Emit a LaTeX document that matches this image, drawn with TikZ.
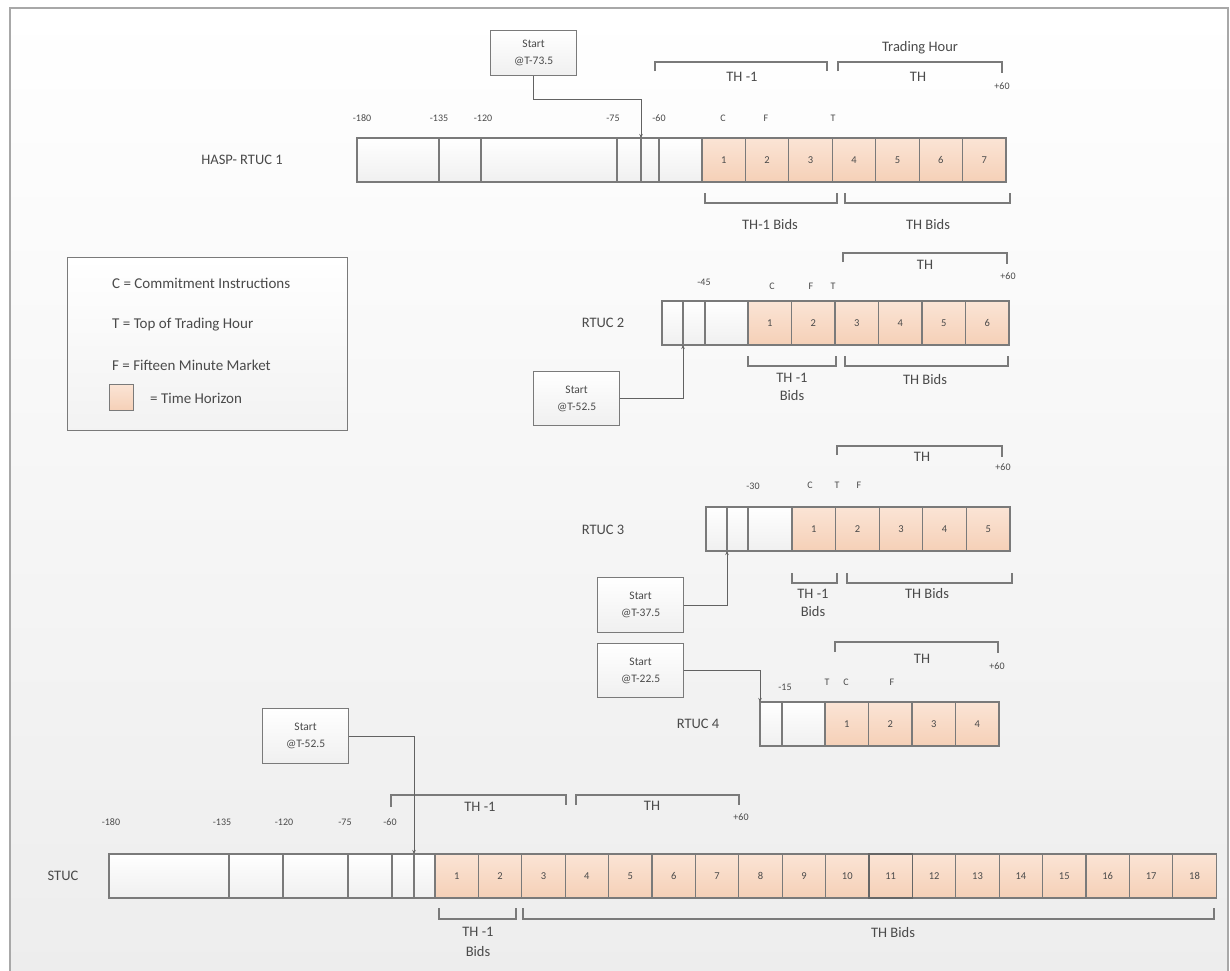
\documentclass[tikz,border=0pt]{standalone}
\usepackage{fontspec}
\setmainfont{Carlito}
\usetikzlibrary{arrows.meta}
\definecolor{bord}{HTML}{7A7A7A}
\definecolor{txt}{HTML}{4A4A4A}
\definecolor{peachtop}{HTML}{FBE4D5}
\definecolor{peachbot}{HTML}{F5D0B7}
\definecolor{framec}{HTML}{A8A8A8}
\tikzset{
  wcell/.style={draw=bord, line width=1.1pt, top color=white, bottom color=black!6, minimum height=44, inner sep=0pt, outer sep=0pt, anchor=north west},
  ocell/.style={wcell, top color=peachtop, bottom color=peachbot, font=\fontsize{10.5}{12}\selectfont, text=txt},
  lbl/.style={font=\fontsize{10}{12}\selectfont, text=txt, inner sep=1pt},
  mlbl/.style={font=\fontsize{14.5}{19}\selectfont, text=txt, inner sep=1pt, align=center},
  rowlbl/.style={font=\fontsize{14.5}{17}\selectfont, text=txt, inner sep=1pt},
  brk/.style={draw=bord, line width=1.1pt},
  startbox/.style={draw=bord, line width=1.3pt, top color=white, bottom color=black!6, minimum width=86, minimum height=54, align=center, font=\fontsize{11.5}{17}\selectfont, text=txt, anchor=north west, inner sep=0pt},
  conn/.style={draw=bord!80!black, line width=1pt, -{Stealth[length=4pt,width=3.5pt]}},
  legtxt/.style={font=\fontsize{15}{17}\selectfont, text=txt, anchor=west, inner sep=0pt}
}
\begin{document}
\begin{tikzpicture}[x=1pt,y=-1pt]
\useasboundingbox (0,0) rectangle (1230,970);
\fill[white] (0,0) rectangle (1230,970);
\shade[top color=white, bottom color=black!7] (10,8) rectangle (1228,970);
\draw[framec, line width=1.6pt] (10,972) -- (10,8) -- (1228,8) -- (1228,972);

% ---------------- HASP-RTUC 1 ----------------
\node[rowlbl] (lhasp) at (242,160) {HASP- RTUC 1};
\foreach \n/\a/\b [evaluate=\a as \w using \b-\a] in {1/357/439,2/439/481,3/481/617,4/617/641,5/641/659,6/659/702}
  \node[wcell, minimum width=\w] (hw\n) at (\a,138) {};
\foreach \i in {1,...,7}
  \node[ocell, minimum width=43.43] (ho\i) at ({702+(\i-1)*43.43},138) {\i};
\node[lbl] (ht1) at (362,118) {-180};
\node[lbl] (ht2) at (439,118) {-135};
\node[lbl] (ht3) at (483,118) {-120};
\node[lbl] (ht4) at (613,118) {-75};
\node[lbl] (ht5) at (659,118) {-60};
\node[lbl] (ht6) at (723,118) {C};
\node[lbl] (ht7) at (766,118) {F};
\node[lbl] (ht8) at (833,118) {T};
\node[mlbl] (htrading) at (920,48) {Trading Hour};
\draw[brk] (655,71) -- (655,62) -- (827,62) -- (827,71);
\draw[brk] (838,71) -- (838,62) -- (1002,62) -- (1002,73);
\node[mlbl] (hth1) at (742,77) {TH -1};
\node[mlbl] (hth) at (918,77) {TH};
\node[lbl] (hp60) at (1002,86) {+60};
\draw[brk] (705,193) -- (705,203) -- (837,203) -- (837,193);
\draw[brk] (845,193) -- (845,203) -- (1010,203) -- (1010,193);
\node[mlbl] (hb1) at (770,225) {TH-1 Bids};
\node[mlbl] (hb2) at (928,225) {TH Bids};
\node[startbox, minimum height=45] (hstart) at (490,30) {Start\\@T-73.5};
\draw[conn] (hstart.south) -- ++(0,23) -| (hw5.north west);

% ---------------- Legend ----------------
\node[draw=bord, line width=1.3pt, top color=white, bottom color=black!5, minimum width=280, minimum height=173, anchor=north west, inner sep=0pt] (legend) at (67,257) {};
\node[legtxt] (leg1) at (112,283) {C = Commitment Instructions};
\node[legtxt] (leg2) at (112,325) {T = Top of Trading Hour};
\node[legtxt] (leg3) at (112,365) {F = Fifteen Minute Market};
\node[draw=bord, line width=1pt, top color=peachtop, bottom color=peachbot, minimum width=24, minimum height=26, anchor=north west, inner sep=0pt] (legsq) at (109,384) {};
\node[legtxt] (leg4) at (150,398) {= Time Horizon};

% ---------------- RTUC 2 ----------------
\node[rowlbl] (l2) at (603,323) {RTUC 2};
\foreach \n/\a/\b [evaluate=\a as \w using \b-\a] in {1/662/683,2/683/705,3/705/748}
  \node[wcell, minimum width=\w] (r2w\n) at (\a,301) {};
\foreach \i in {1,...,6}
  \node[ocell, minimum width=43.5] (r2o\i) at ({748+(\i-1)*43.5},301) {\i};
\node[lbl] (r2t1) at (704,282) {-45};
\node[lbl] (r2t2) at (772,286) {C};
\node[lbl] (r2t3) at (811,286) {F};
\node[lbl] (r2t4) at (833,286) {T};
\draw[brk] (843,262) -- (843,253) -- (1007,253) -- (1007,264);
\node[mlbl] (r2th) at (925,265) {TH};
\node[lbl] (r2p60) at (1008,276) {+60};
\draw[brk] (748,356) -- (748,366) -- (836,366) -- (836,356);
\draw[brk] (845,356) -- (845,366) -- (1008,366) -- (1008,356);
\node[mlbl, font=\fontsize{14.5}{18}\selectfont] (r2b1) at (792,387) {TH -1\\Bids};
\node[mlbl] (r2b2) at (925,380) {TH Bids};
\node[startbox] (s2) at (533,371) {Start\\@T-52.5};
\draw[conn] (s2.east) -| (r2w2.south west);

% ---------------- RTUC 3 ----------------
\node[rowlbl] (l3) at (603,530) {RTUC 3};
\foreach \n/\a/\b [evaluate=\a as \w using \b-\a] in {1/706/727,2/727/748,3/748/792}
  \node[wcell, minimum width=\w] (r3w\n) at (\a,507) {};
\foreach \i in {1,...,5}
  \node[ocell, minimum width=43.6] (r3o\i) at ({792+(\i-1)*43.6},507) {\i};
\node[lbl] (r3t1) at (753,486) {-30};
\node[lbl] (r3t2) at (810,485) {C};
\node[lbl] (r3t3) at (837,485) {T};
\node[lbl] (r3t4) at (859,485) {F};
\draw[brk] (837,455) -- (837,446) -- (1002,446) -- (1002,457);
\node[mlbl] (r3th) at (922,457) {TH};
\node[lbl] (r3p60) at (1003,467) {+60};
\draw[brk] (792,573) -- (792,583) -- (837,583) -- (837,573);
\draw[brk] (847,573) -- (847,583) -- (1012,583) -- (1012,573);
\node[mlbl, font=\fontsize{14.5}{18}\selectfont] (r3b1) at (813,603) {TH -1\\Bids};
\node[mlbl] (r3b2) at (927,594) {TH Bids};
\node[startbox, minimum height=55] (s3) at (597,577) {Start\\@T-37.5};
\draw[conn] (s3.east) -| (r3w2.south west);

% ---------------- RTUC 4 ----------------
\node[rowlbl] (l4) at (698,724) {RTUC 4};
\foreach \n/\a/\b [evaluate=\a as \w using \b-\a] in {1/760/782,2/782/825}
  \node[wcell, minimum width=\w] (r4w\n) at (\a,702) {};
\foreach \i in {1,...,4}
  \node[ocell, minimum width=43.5] (r4o\i) at ({825+(\i-1)*43.5},702) {\i};
\node[lbl] (r4t1) at (785,687) {-15};
\node[lbl] (r4t2) at (827,682) {T};
\node[lbl] (r4t3) at (846,682) {C};
\node[lbl] (r4t4) at (892,682) {F};
\draw[brk] (835,652) -- (835,642) -- (998,642) -- (998,653);
\node[mlbl] (r4th) at (922,659) {TH};
\node[lbl] (r4p60) at (997,666) {+60};
\node[startbox] (s4) at (597,643) {Start\\@T-22.5};
\draw[conn] (s4.east) -| (r4w1.north west);

% ---------------- STUC ----------------
\node[rowlbl] (ls) at (63,876) {STUC};
\foreach \n/\a/\b [evaluate=\a as \w using \b-\a] in {1/109/229,2/229/283,3/283/348,4/348/392,5/392/414,6/414/435}
  \node[wcell, minimum width=\w] (sw\n) at (\a,854) {};
\foreach \i in {1,...,18}
  \node[ocell, minimum width=43.4] (so\i) at ({435+(\i-1)*43.4},854) {\i};
\node[ocell, minimum width=43.4, draw=black!60, line width=1.4pt] (so11b) at ({435+10*43.4},854) {11};
\node[lbl] (st1) at (111,822) {-180};
\node[lbl] (st2) at (222,822) {-135};
\node[lbl] (st3) at (284,822) {-120};
\node[lbl] (st4) at (345,822) {-75};
\node[lbl] (st5) at (390,822) {-60};
\draw[brk] (391,807) -- (391,795) -- (566,795) -- (566,805);
\draw[brk] (576,805) -- (576,795) -- (739,795) -- (739,805);
\node[mlbl] (sth1) at (480,807) {TH -1};
\node[mlbl] (sth) at (652,806) {TH};
\node[lbl] (sp60) at (741,817) {+60};
\draw[brk] (439,908) -- (439,919) -- (516,919) -- (516,908);
\draw[brk] (523,908) -- (523,919) -- (1214,919) -- (1214,908);
\node[mlbl, font=\fontsize{14.5}{20}\selectfont] (sb1) at (478,942) {TH -1\\Bids};
\node[mlbl] (sb2) at (893,932) {TH Bids};
\node[startbox, minimum height=55] (ss) at (262,708) {Start\\@T-52.5};
\draw[conn] (ss.east) -| (sw6.north west);
\end{tikzpicture}
\end{document}
